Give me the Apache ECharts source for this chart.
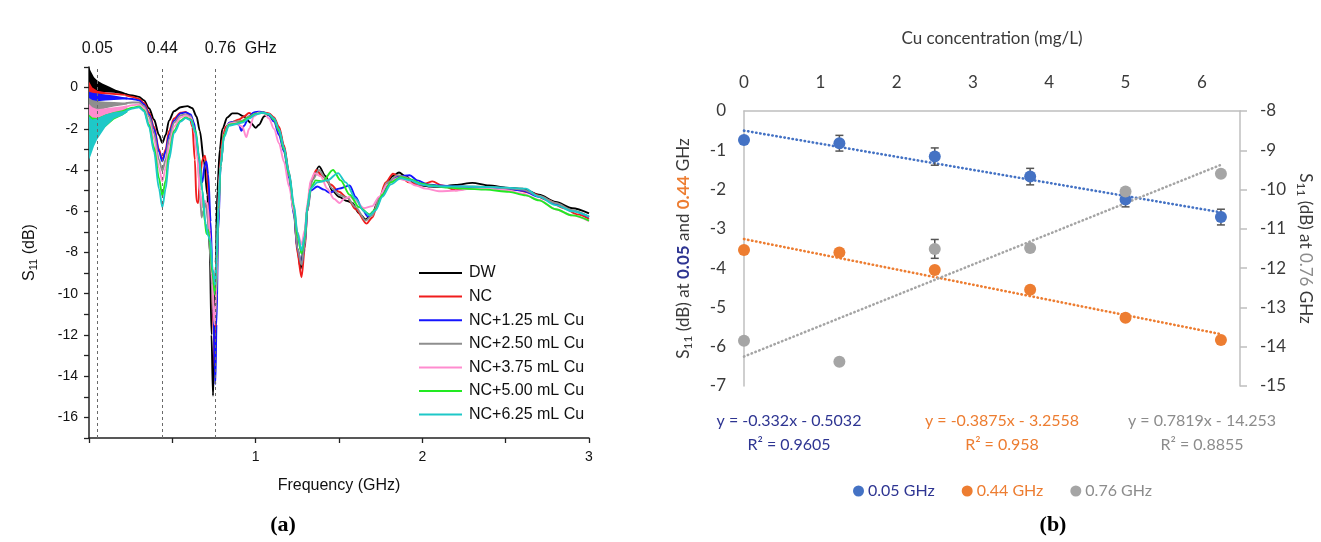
<!DOCTYPE html>
<html><head><meta charset="utf-8">
<script src="https://cdn.jsdelivr.net/npm/echarts@6/dist/echarts.min.js"></script>
<style>html,body{margin:0;padding:0;background:#fff}#c{width:1321px;height:542px}</style>
</head><body><div id="c"></div><script>
// ---------- Panel (a): S11 spectra ----------
const seriesNames = ['DW', 'NC', 'NC+1.25 mL Cu', 'NC+2.50 mL Cu', 'NC+3.75 mL Cu', 'NC+5.00 mL Cu', 'NC+6.25 mL Cu'];
const seriesColors = ['#000000', '#f01c1c', '#1414ff', '#8e8e8e', '#ff8ccf', '#22ea22', '#1ec8c8'];

const dwCurve = [[0.22,-0.32],[0.26,-0.38],[0.3,-0.45],[0.33,-0.62],[0.36,-1.0],[0.39,-1.55],[0.42,-2.3],[0.44,-2.68],[0.46,-2.3],[0.48,-1.6],[0.51,-1.15],[0.55,-0.95],[0.59,-0.9],[0.62,-1.0],[0.645,-1.4],[0.665,-2.1],[0.69,-3.6],[0.71,-5.2],[0.725,-8.0],[0.735,-12.0],[0.744,-14.95],[0.752,-12.5],[0.76,-8.5],[0.77,-5.0],[0.785,-3.0],[0.8,-2.0],[0.83,-1.45],[0.86,-1.25],[0.89,-1.25],[0.93,-1.4],[0.97,-1.7],[1.0,-1.95],[1.02,-1.8],[1.05,-1.4],[1.08,-1.3],[1.11,-1.5],[1.14,-2.0],[1.17,-2.9],[1.2,-4.2],[1.23,-6.0],[1.25,-7.8],[1.27,-8.8],[1.29,-7.6],[1.31,-5.8],[1.34,-4.4],[1.38,-3.82],[1.42,-4.3],[1.46,-5.0],[1.5,-5.3],[1.55,-5.5],[1.58,-5.6],[1.62,-6.1],[1.66,-6.4],[1.7,-6.1],[1.74,-5.4],[1.78,-4.8],[1.82,-4.3],[1.86,-4.12],[1.9,-4.3],[1.95,-4.6],[2.0,-4.75],[2.05,-4.8],[2.1,-4.82],[2.2,-4.72],[2.3,-4.62],[2.4,-4.75],[2.5,-4.85],[2.6,-4.9],[2.7,-5.2],[2.8,-5.55],[2.9,-5.85],[3.0,-6.1]];
const ncCurve = [[0.22,-0.38],[0.26,-0.45],[0.3,-0.55],[0.33,-0.75],[0.36,-1.2],[0.39,-1.9],[0.42,-3.0],[0.44,-3.5],[0.46,-3.0],[0.48,-2.1],[0.51,-1.5],[0.55,-1.22],[0.58,-1.18],[0.6,-1.3],[0.62,-1.9],[0.635,-3.5],[0.645,-5.5],[0.655,-5.6],[0.665,-4.5],[0.68,-3.5],[0.695,-3.3],[0.705,-3.8],[0.72,-5.5],[0.735,-8.5],[0.748,-12.0],[0.756,-13.85],[0.763,-11.0],[0.772,-7.0],[0.785,-4.0],[0.8,-2.5],[0.82,-1.9],[0.85,-1.7],[0.9,-1.55],[0.93,-1.4],[0.96,-1.23],[0.99,-1.35],[1.02,-1.22],[1.05,-1.2],[1.08,-1.25],[1.11,-1.45],[1.14,-1.9],[1.17,-2.8],[1.2,-4.1],[1.23,-6.0],[1.25,-8.0],[1.275,-9.2],[1.295,-7.8],[1.31,-6.0],[1.33,-4.6],[1.364,-4.0],[1.4,-4.3],[1.45,-4.7],[1.5,-5.05],[1.55,-5.35],[1.6,-5.9],[1.665,-6.6],[1.7,-6.3],[1.74,-5.4],[1.78,-4.6],[1.824,-4.18],[1.87,-4.35],[1.92,-4.6],[1.98,-4.75],[2.02,-4.65],[2.06,-4.55],[2.12,-4.75],[2.2,-4.98],[2.28,-4.9],[2.35,-4.85],[2.45,-4.85],[2.55,-4.95],[2.65,-5.1],[2.75,-5.45],[2.85,-5.85],[2.93,-6.15],[3.0,-6.37]];
const cu125Curve = [[0.22,-0.52],[0.26,-0.55],[0.3,-0.62],[0.33,-0.82],[0.36,-1.3],[0.39,-2.0],[0.42,-3.1],[0.44,-3.58],[0.46,-3.1],[0.48,-2.3],[0.51,-1.6],[0.55,-1.25],[0.58,-1.2],[0.61,-1.3],[0.63,-1.7],[0.65,-2.8],[0.665,-4.2],[0.68,-4.6],[0.693,-3.8],[0.704,-3.58],[0.715,-4.2],[0.73,-6.5],[0.745,-10.5],[0.758,-14.4],[0.765,-11.5],[0.775,-7.0],[0.79,-3.8],[0.81,-2.3],[0.84,-1.7],[0.87,-1.65],[0.9,-1.8],[0.914,-2.1],[0.93,-1.85],[0.96,-1.4],[0.99,-1.2],[1.02,-1.17],[1.05,-1.2],[1.08,-1.35],[1.11,-1.65],[1.14,-2.3],[1.17,-3.1],[1.2,-4.4],[1.23,-6.2],[1.25,-7.8],[1.275,-8.55],[1.295,-7.6],[1.31,-6.0],[1.33,-5.0],[1.37,-4.8],[1.41,-4.95],[1.444,-5.1],[1.5,-4.9],[1.564,-4.75],[1.6,-5.3],[1.64,-5.9],[1.672,-6.25],[1.71,-6.0],[1.75,-5.3],[1.8,-4.6],[1.86,-4.3],[1.924,-4.25],[1.97,-4.5],[2.03,-4.7],[2.1,-4.75],[2.2,-4.8],[2.3,-4.82],[2.4,-4.85],[2.5,-4.9],[2.6,-5.0],[2.7,-5.3],[2.8,-5.65],[2.9,-5.98],[3.0,-6.28]];
const cu250Curve = [[0.22,-0.75],[0.26,-0.72],[0.3,-0.72],[0.33,-0.9],[0.36,-1.4],[0.39,-2.2],[0.42,-3.5],[0.44,-4.05],[0.46,-3.5],[0.48,-2.5],[0.51,-1.7],[0.55,-1.35],[0.58,-1.3],[0.61,-1.4],[0.63,-1.9],[0.65,-3.2],[0.665,-5.0],[0.675,-6.3],[0.685,-6.0],[0.7,-5.6],[0.715,-6.5],[0.73,-8.5],[0.745,-10.8],[0.755,-11.5],[0.765,-10.0],[0.775,-6.5],[0.79,-3.8],[0.81,-2.3],[0.84,-1.75],[0.88,-1.65],[0.92,-1.6],[0.96,-1.4],[1.0,-1.25],[1.04,-1.2],[1.08,-1.3],[1.11,-1.55],[1.14,-2.1],[1.17,-3.0],[1.2,-4.3],[1.23,-6.1],[1.25,-7.8],[1.275,-8.6],[1.295,-7.6],[1.31,-6.0],[1.34,-4.5],[1.38,-4.0],[1.42,-4.4],[1.46,-4.9],[1.5,-5.2],[1.55,-5.35],[1.6,-5.8],[1.66,-6.45],[1.7,-6.2],[1.74,-5.4],[1.79,-4.6],[1.85,-4.25],[1.9,-4.35],[1.96,-4.6],[2.02,-4.72],[2.1,-4.8],[2.2,-4.82],[2.3,-4.8],[2.4,-4.82],[2.5,-4.88],[2.6,-4.95],[2.7,-5.25],[2.8,-5.6],[2.9,-5.95],[3.0,-6.27]];
const cu375Curve = [[0.22,-0.95],[0.26,-0.85],[0.3,-0.82],[0.33,-1.0],[0.36,-1.6],[0.39,-2.5],[0.42,-3.9],[0.44,-4.55],[0.46,-3.9],[0.48,-2.8],[0.51,-1.9],[0.55,-1.45],[0.58,-1.35],[0.61,-1.45],[0.63,-2.0],[0.65,-3.4],[0.665,-5.0],[0.68,-5.8],[0.695,-5.5],[0.71,-5.6],[0.725,-7.0],[0.74,-9.5],[0.753,-11.5],[0.76,-10.5],[0.77,-7.0],[0.785,-4.0],[0.81,-2.3],[0.84,-1.75],[0.88,-1.7],[0.92,-1.9],[0.944,-2.4],[0.96,-2.0],[0.99,-1.4],[1.02,-1.2],[1.05,-1.25],[1.08,-1.5],[1.11,-2.0],[1.14,-2.7],[1.17,-3.6],[1.2,-4.8],[1.23,-6.0],[1.25,-7.0],[1.275,-7.6],[1.295,-6.9],[1.31,-5.6],[1.33,-4.5],[1.354,-4.15],[1.39,-4.3],[1.43,-4.9],[1.47,-5.4],[1.504,-5.6],[1.53,-5.4],[1.564,-5.3],[1.6,-5.5],[1.65,-5.85],[1.7,-5.75],[1.74,-5.3],[1.79,-4.7],[1.85,-4.4],[1.9,-4.5],[1.96,-4.75],[2.02,-4.9],[2.1,-5.03],[2.2,-5.0],[2.3,-4.9],[2.4,-4.9],[2.5,-4.98],[2.6,-5.15],[2.7,-5.45],[2.8,-5.9],[2.9,-6.2],[3.0,-6.48]];
const cu500Curve = [[0.22,-1.1],[0.26,-0.98],[0.3,-0.92],[0.33,-1.1],[0.36,-1.8],[0.39,-2.9],[0.42,-4.4],[0.44,-5.25],[0.46,-4.5],[0.48,-3.2],[0.51,-2.1],[0.55,-1.6],[0.58,-1.45],[0.61,-1.55],[0.64,-2.1],[0.66,-3.3],[0.68,-5.0],[0.695,-6.5],[0.705,-7.1],[0.715,-6.9],[0.725,-7.5],[0.74,-9.0],[0.756,-10.05],[0.765,-8.5],[0.775,-6.0],[0.79,-3.8],[0.81,-2.3],[0.84,-1.8],[0.88,-1.75],[0.92,-1.65],[0.96,-1.45],[1.0,-1.28],[1.04,-1.22],[1.08,-1.3],[1.11,-1.55],[1.14,-2.1],[1.17,-3.0],[1.2,-4.2],[1.23,-5.8],[1.25,-7.2],[1.275,-8.05],[1.295,-7.3],[1.31,-5.8],[1.33,-4.9],[1.36,-4.5],[1.4,-4.55],[1.464,-4.0],[1.51,-4.5],[1.564,-5.2],[1.62,-5.8],[1.684,-6.15],[1.72,-5.9],[1.76,-5.2],[1.81,-4.6],[1.87,-4.35],[1.93,-4.45],[1.99,-4.65],[2.05,-4.75],[2.15,-4.85],[2.25,-4.9],[2.38,-4.95],[2.52,-5.06],[2.62,-5.23],[2.7,-5.47],[2.8,-5.9],[2.9,-6.2],[3.0,-6.45]];
const cu625Curve = [[0.22,-1.15],[0.26,-1.02],[0.3,-0.95],[0.33,-1.15],[0.36,-1.9],[0.39,-3.1],[0.42,-4.9],[0.44,-5.8],[0.46,-4.9],[0.48,-3.5],[0.51,-2.2],[0.55,-1.65],[0.58,-1.48],[0.61,-1.58],[0.64,-2.2],[0.66,-3.4],[0.68,-5.0],[0.7,-6.6],[0.715,-7.2],[0.728,-7.4],[0.742,-8.8],[0.757,-9.6],[0.766,-8.2],[0.776,-5.8],[0.79,-3.8],[0.81,-2.4],[0.84,-1.85],[0.88,-1.78],[0.92,-1.7],[0.96,-1.5],[1.0,-1.3],[1.04,-1.22],[1.08,-1.28],[1.11,-1.5],[1.14,-2.0],[1.17,-2.9],[1.2,-4.1],[1.23,-5.7],[1.25,-7.0],[1.275,-7.9],[1.295,-7.2],[1.31,-5.8],[1.33,-4.9],[1.37,-4.6],[1.43,-4.5],[1.494,-4.15],[1.54,-4.6],[1.6,-5.4],[1.65,-6.0],[1.684,-6.2],[1.72,-5.95],[1.76,-5.3],[1.81,-4.7],[1.87,-4.4],[1.93,-4.5],[1.99,-4.7],[2.05,-4.78],[2.15,-4.8],[2.25,-4.8],[2.38,-4.82],[2.5,-4.85],[2.62,-4.9],[2.7,-5.3],[2.8,-5.7],[2.9,-6.0],[3.0,-6.25]];

// noisy low-frequency bands: upper and lower envelopes
const dwBandTop = [[0,1.0],[0.01,0.8],[0.03,0.5],[0.05,0.35],[0.08,0.2],[0.12,0.05],[0.16,-0.1],[0.2,-0.2],[0.23,-0.3]];
const dwBandBottom = [[0,-0.3],[0.01,-0.3],[0.03,-0.25],[0.05,-0.2],[0.1,-0.22],[0.15,-0.25],[0.2,-0.32],[0.23,-0.35]];
const ncBandTop = [[0,0.3],[0.02,0.0],[0.05,-0.15],[0.1,-0.22],[0.2,-0.3],[0.23,-0.35]];
const ncBandBottom = [[0,-0.6],[0.02,-0.45],[0.05,-0.35],[0.1,-0.32],[0.2,-0.38],[0.23,-0.4]];
const cu125BandTop = [[0,-0.2],[0.02,-0.25],[0.05,-0.28],[0.1,-0.33],[0.15,-0.38],[0.2,-0.45],[0.23,-0.48]];
const cu125BandBottom = [[0,-0.85],[0.02,-0.75],[0.05,-0.66],[0.1,-0.62],[0.15,-0.6],[0.2,-0.58],[0.23,-0.58]];
const cu250BandTop = [[0,-0.5],[0.02,-0.6],[0.05,-0.65],[0.1,-0.68],[0.15,-0.7],[0.2,-0.72],[0.23,-0.72]];
const cu250BandBottom = [[0,-1.35],[0.02,-1.25],[0.05,-1.15],[0.1,-1.0],[0.15,-0.92],[0.2,-0.85],[0.23,-0.82]];
const cu375BandTop = [[0,-0.8],[0.02,-0.95],[0.05,-1.05],[0.1,-1.0],[0.15,-0.95],[0.2,-0.9],[0.23,-0.85]];
const cu375BandBottom = [[0,-2.0],[0.02,-1.85],[0.05,-1.72],[0.1,-1.5],[0.15,-1.3],[0.2,-1.15],[0.23,-1.05]];
const cu500BandTop = [[0,-1.3],[0.02,-1.45],[0.05,-1.48],[0.1,-1.3],[0.15,-1.18],[0.2,-1.1],[0.23,-1.0]];
const cu500BandBottom = [[0,-2.3],[0.02,-2.2],[0.05,-2.15],[0.1,-1.9],[0.15,-1.55],[0.2,-1.35],[0.23,-1.2]];
const cu625BandTop = [[0,-1.4],[0.02,-1.55],[0.05,-1.5],[0.1,-1.3],[0.15,-1.2],[0.2,-1.15],[0.23,-1.08]];
const cu625BandBottom = [[0,-3.5],[0.01,-3.3],[0.03,-2.85],[0.05,-2.5],[0.1,-1.9],[0.15,-1.5],[0.2,-1.35],[0.23,-1.2]];

const markerFreqs = [0.05, 0.44, 0.76];
const markerLabels = ['0.05', '0.44', '0.76  GHz'];

// ---------- Panel (b): S11 vs Cu concentration ----------
const concentrations = [0, 1.25, 2.5, 3.75, 5, 6.25];
const s11At005 = [-0.74, -0.82, -1.16, -1.67, -2.25, -2.70];
const err005 = [0, 0.2, 0.22, 0.21, 0.19, 0.2];
const s11At044 = [-3.54, -3.60, -4.05, -4.55, -5.26, -5.83];
const s11At076 = [-13.85, -14.38, -11.51, -11.49, -10.05, -9.60];
const err076 = [0, 0, 0.24, 0, 0, 0];
const trendX = [0, 6.25];
const trend005 = [-0.50, -2.58];
const trend044 = [-3.26, -5.68];
const trend076 = [-14.25, -9.37];
const fitEquations = ['y = -0.332x - 0.5032', 'y = -0.3875x - 3.2558', 'y = 0.7819x - 14.253'];
const fitR2 = ['R² = 0.9605', 'R² = 0.958', 'R² = 0.8855'];
const rightNames = ['0.05 GHz', '0.44 GHz', '0.76 GHz'];

// ---------- build ----------
const curves = [dwCurve, ncCurve, cu125Curve, cu250Curve, cu375Curve, cu500Curve, cu625Curve];
const bands = [[dwBandTop, dwBandBottom],[ncBandTop, ncBandBottom],[cu125BandTop, cu125BandBottom],[cu250BandTop, cu250BandBottom],[cu375BandTop, cu375BandBottom],[cu500BandTop, cu500BandBottom],[cu625BandTop, cu625BandBottom]];
const dotColors = ['#4472c4', '#ed7d31', '#a5a5a5'];
const textColors = ['#2e3592', '#ed7d31', '#8c8c8c'];
const FA = 'Liberation Sans, Arial, sans-serif';
const FB = 'Lato, Open Sans, sans-serif';
const axisTxt = '#3a3a3a';

const series = [];
series.push({
  type: 'custom', xAxisIndex: 0, yAxisIndex: 0, z: 2, silent: true, clip: true,
  data: bands.map(b => [b[0][0][0], b[0][0][1]]),
  renderItem: function (params, api) {
    const b = bands[params.dataIndex];
    const pts = b[0].map(p => api.coord(p)).concat(b[1].slice().reverse().map(p => api.coord(p)));
    return { type: 'polygon', shape: { points: pts }, style: { fill: seriesColors[params.dataIndex] } };
  }
});
curves.forEach((c, i) => {
  const s = {
    name: seriesNames[i], type: 'line', xAxisIndex: 0, yAxisIndex: 0, z: 3,
    data: c, symbol: 'none', showSymbol: false, smooth: 0.3, smoothMonotone: 'x',
    lineStyle: { color: seriesColors[i], width: 1.9 }, itemStyle: { color: seriesColors[i] }
  };
  if (i === 0) {
    s.markLine = {
      silent: true, symbol: ['none', 'none'], animation: false,
      lineStyle: { type: [3, 3], color: '#6a6a6a', width: 1 },
      data: markerFreqs.map((f, k) => ({
        xAxis: f,
        label: { show: true, position: 'end', formatter: markerLabels[k], fontSize: 16, fontFamily: FA, color: '#111', distance: 10, offset: k === 2 ? [25, 0] : [0, 0] }
      }))
    };
  }
  series.push(s);
});
const trends = [trend005, trend044, trend076];
trends.forEach((t, i) => {
  series.push({
    type: 'line', xAxisIndex: 1, yAxisIndex: i === 2 ? 2 : 1, z: 3, silent: true,
    data: trendX.map((x, k) => [x, t[k]]), symbol: 'none',
    lineStyle: { color: dotColors[i], width: 2.6, type: [0.4, 3.7], cap: 'round' }
  });
});
function errSeries(vals, errs, yIdx) {
  return {
    type: 'custom', xAxisIndex: 1, yAxisIndex: yIdx, z: 4, silent: true,
    data: concentrations.map((c, k) => [c, vals[k], errs[k]]),
    renderItem: function (params, api) {
      const x = api.value(0), y = api.value(1), e = api.value(2);
      if (!e) return null;
      const t = api.coord([x, y + e]), b = api.coord([x, y - e]);
      const st = { stroke: '#555555', lineWidth: 1.5 };
      return { type: 'group', children: [
        { type: 'line', shape: { x1: t[0], y1: t[1], x2: b[0], y2: b[1] }, style: st },
        { type: 'line', shape: { x1: t[0] - 4, y1: t[1], x2: t[0] + 4, y2: t[1] }, style: st },
        { type: 'line', shape: { x1: b[0] - 4, y1: b[1], x2: b[0] + 4, y2: b[1] }, style: st }
      ] };
    }
  };
}
series.push(errSeries(s11At005, err005, 1));
series.push(errSeries(s11At076, err076, 2));
[s11At005, s11At044, s11At076].forEach((v, i) => {
  series.push({
    name: rightNames[i], type: 'scatter', xAxisIndex: 1, yAxisIndex: i === 2 ? 2 : 1, z: 5,
    data: concentrations.map((c, k) => [c, v[k]]), symbolSize: 12,
    itemStyle: { color: dotColors[i], opacity: 1 }
  });
});

const graphics = [];
const eqCenters = [789, 1002, 1202];
fitEquations.forEach((t, i) => {
  graphics.push({ type: 'text', x: eqCenters[i], y: 421, style: { text: t, fill: textColors[i], font: '16px ' + FB, textAlign: 'center', textVerticalAlign: 'middle' } });
  graphics.push({ type: 'text', x: eqCenters[i], y: 445, style: { text: fitR2[i], fill: textColors[i], font: '16px ' + FB, textAlign: 'center', textVerticalAlign: 'middle' } });
});
graphics.push({ type: 'text', x: 283, y: 525, style: { text: '(a)', fill: '#000', font: 'bold 22px Liberation Serif, serif', textAlign: 'center', textVerticalAlign: 'middle' } });
graphics.push({ type: 'text', x: 1053, y: 525, style: { text: '(b)', fill: '#000', font: 'bold 22px Liberation Serif, serif', textAlign: 'center', textVerticalAlign: 'middle' } });

const subRich = { a: { fontSize: 16, fontFamily: FA, color: '#111' }, s: { fontSize: 11, fontFamily: FA, color: '#111', padding: [8, 0, 0, 0] } };
const subRichB = {
  a: { fontSize: 17, fontFamily: FB, color: axisTxt },
  s: { fontSize: 12, fontFamily: FB, color: axisTxt, padding: [8, 0, 0, 0] },
  b: { fontSize: 17, fontFamily: FB, color: textColors[0], fontWeight: 'bold' },
  o: { fontSize: 17, fontFamily: FB, color: textColors[1], fontWeight: 'bold' },
  g: { fontSize: 17, fontFamily: FB, color: textColors[2] }
};

const option = {
  animation: false,
  backgroundColor: '#ffffff',
  grid: [
    { left: 89, top: 67, width: 500, height: 371 },
    { left: 744, top: 111, width: 496, height: 275 }
  ],
  xAxis: [
    {
      gridIndex: 0, type: 'value', min: 0, max: 3, interval: 0.5,
      axisLine: { onZero: false, lineStyle: { color: '#222', width: 1.5 } },
      axisTick: { show: true, length: 5, lineStyle: { color: '#222', width: 1.3 } },
      axisLabel: { fontSize: 14, fontFamily: FA, color: '#111', margin: 12, formatter: v => (v > 0 && Number.isInteger(v)) ? String(v) : '' },
      splitLine: { show: false },
      name: 'Frequency (GHz)', nameLocation: 'middle', nameGap: 40,
      nameTextStyle: { fontSize: 16, fontFamily: FA, color: '#111' }
    },
    {
      gridIndex: 1, type: 'value', position: 'top', min: 0, max: 6.5, interval: 1,
      axisLine: { onZero: false, lineStyle: { color: '#bfbfbf', width: 1.5 } },
      axisTick: { show: false },
      axisLabel: { fontSize: 17, fontFamily: FB, color: axisTxt, margin: 20, formatter: v => Number.isInteger(v) ? String(v) : '' },
      splitLine: { show: false },
      name: 'Cu concentration (mg/L)', nameLocation: 'middle', nameGap: 64,
      nameTextStyle: { fontSize: 17, fontFamily: FB, color: axisTxt }
    }
  ],
  yAxis: [
    {
      gridIndex: 0, type: 'value', min: -17, max: 1, interval: 1,
      axisLine: { show: true, onZero: false, lineStyle: { color: '#222', width: 1.5 } },
      axisTick: { show: true, length: 5, lineStyle: { color: '#222', width: 1.3 } },
      axisLabel: { fontSize: 14, fontFamily: FA, color: '#111', margin: 11, formatter: v => (v % 2 === 0) ? String(v) : '' },
      splitLine: { show: false },
      name: '{a|S}{s|11}{a| (dB)}', nameLocation: 'middle', nameGap: 50,
      nameTextStyle: { rich: subRich }
    },
    {
      gridIndex: 1, type: 'value', min: -7, max: 0, interval: 1,
      axisLine: { show: true, onZero: false, lineStyle: { color: '#bfbfbf', width: 1.5 } },
      axisTick: { show: false },
      axisLabel: { fontSize: 17, fontFamily: FB, color: axisTxt, margin: 18 },
      splitLine: { show: false },
      name: '{a|S}{s|11}{a| (dB) at }{b|0.05}{a| and }{o|0.44}{a| GHz}', nameLocation: 'middle', nameGap: 50,
      nameTextStyle: { rich: subRichB }
    },
    {
      gridIndex: 1, type: 'value', position: 'right', min: -15, max: -8, interval: 1,
      axisLine: { show: true, onZero: false, lineStyle: { color: '#bfbfbf', width: 1.5 } },
      axisTick: { show: true, length: 7, lineStyle: { color: '#bfbfbf', width: 1.5 } },
      axisLabel: { fontSize: 17, fontFamily: FB, color: axisTxt, margin: 20 },
      splitLine: { show: false },
      name: '{a|S}{s|11}{a| (dB) at }{g|0.76}{a| GHz}', nameLocation: 'middle', nameGap: 55, nameRotate: -90,
      nameTextStyle: { rich: subRichB }
    }
  ],
  legend: [
    {
      data: seriesNames, orient: 'vertical', left: 414, top: 260,
      icon: 'rect', itemWidth: 43, itemHeight: 2, itemGap: 7.6,
      textStyle: { fontSize: 16, fontFamily: FA, color: '#111', lineHeight: 16, padding: [0, 0, 0, 2] },
      selectedMode: false
    },
    {
      data: rightNames.map((n, i) => ({ name: n, textStyle: { color: textColors[i] } })),
      orient: 'horizontal', left: 848, top: 478,
      icon: 'circle', itemWidth: 11, itemHeight: 11, itemGap: 27,
      textStyle: { fontSize: 16, fontFamily: FB, padding: [0, 0, 0, -1] },
      selectedMode: false
    }
  ],
  graphic: graphics,
  series: series
};
const chart = echarts.init(document.getElementById('c'), null, { renderer: 'canvas' });
chart.setOption(option);
</script></body></html>
